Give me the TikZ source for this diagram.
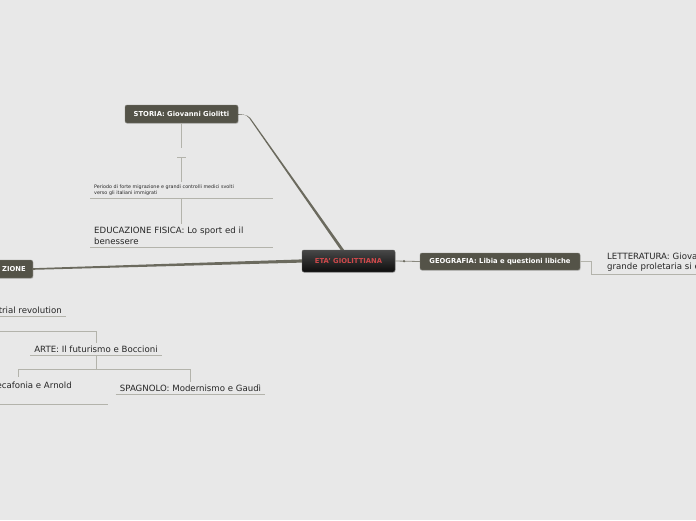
\documentclass[tikz,border=0pt]{standalone}
\usepackage{fontspec}
\setmainfont{DejaVu Sans}
\usetikzlibrary{calc,shadows}
\definecolor{mapBack}{HTML}{E8E8E8}
\definecolor{topicGrey}{HTML}{545348}
\definecolor{centralRed}{HTML}{D0494B}
\definecolor{linkOlive}{HTML}{6B6A5E}
\definecolor{leafLine}{HTML}{B3B3AB}

\begin{document}
\begin{tikzpicture}[x=1pt, y=-1pt,
  topic/.style={fill=topicGrey, draw=topicGrey!75!white, rounded corners=2pt, text=white,
    font=\fontsize{6.8}{8}\selectfont\bfseries, inner xsep=0pt, inner ysep=0pt, minimum height=18pt,
    drop shadow={shadow xshift=0.6pt, shadow yshift=-0.9pt, opacity=0.25}},
  central/.style={topic, top color=black!72, bottom color=black!95, draw=black!60,
    text=centralRed, minimum height=22pt, minimum width=93pt},
  leaf/.style={font=\fontsize{8.6}{10.5}\selectfont, text=black!85, inner xsep=4pt, inner ysep=2.5pt, align=left},
  leaflink/.style={draw=leafLine, line width=0.8pt},
  underline/.style={draw=leafLine, line width=0.8pt}]
  \useasboundingbox (0,0) rectangle (696,520);
  \clip (0,0) rectangle (696,520);
  \fill[mapBack] (0,0) rectangle (696,520);

  % Main topics
  \node[central] (eta) at (348.5,261) {ETA' GIOLITTIANA};
  \node[topic, minimum width=113pt] (storia) at (181.5,114) {STORIA: Giovanni Giolitti};
  \node[topic, minimum width=160pt, minimum height=17pt] (geo) at (500,261.5) {GEOGRAFIA: Libia e questioni libiche};
  \node[topic, anchor=east, text width=58pt, align=right, inner xsep=7pt] (leftTopic) at (33,269) {ZIONE};

  % Leaves
  \node[leaf, font=\fontsize{4.8}{5.8}\selectfont, text width=175pt, anchor=south west]
    (migr) at (90,198) {Periodo di forte migrazione e grandi controlli medici svolti\\verso gli italiani immigrati};
  \node[leaf, text width=175pt, anchor=south west] (edu) at (90,247) {EDUCAZIONE FISICA: Lo sport ed il\\benessere};
  \node[leaf, text width=120pt, anchor=south west] (lett) at (603,274) {LETTERATURA: Giova\\grande proletaria si è};
  \node[leaf, anchor=south east] (rev) at (66,316) {trial revolution};
  \node[leaf, anchor=south] (arte) at (96,355) {ARTE: Il futurismo e Boccioni};
  \node[leaf, anchor=south] (spagnolo) at (190.5,394) {SPAGNOLO: Modernismo e Gaudì};
  \node[leaf, anchor=base east] (musica) at (76,388.5) {ecafonia e Arnold};

  % Underlines
  \foreach \n in {migr,edu,lett,rev,arte,spagnolo}
    \draw[underline] (\n.south west) -- (\n.south east);
  \coordinate (musicaEnd) at (108,404);
  \draw[underline] (musica.west |- musicaEnd) -- (musicaEnd);

  % Main links
  \fill[linkOlive] (storia.east) .. controls +(8,0) and +(-3,-5) .. (251.5,121.5)
    -- ($(eta.north)+(-8,0)$) -- ($(eta.north)+(-4.5,0)$) -- (252.5,121)
    .. controls +(-3,-5) and +(8,-0.8) .. ($(storia.east)+(0,0.8)$) -- cycle;
  \fill[linkOlive] ($(eta.west)+(0,-1.6)$) -- ($(leftTopic.east)+(0,-0.8)$)
    -- ($(leftTopic.east)+(0,0.8)$) -- ($(eta.west)+(0,1.6)$) -- cycle;
  \draw[linkOlive!80, line width=0.8pt] (eta.east) -- (geo.west);
  \fill[linkOlive] ($(eta.east)!0.36!(geo.west)$) circle (1.3pt);

  % Leaf links
  \draw[leaflink] (storia.south) -- ++(0,25);
  \draw[leaflink] ($(storia.south)+(-4.5,34)$) -- ++(9,0);
  \draw[leaflink] ($(storia.south)+(0,34)$) -- (storia.south |- migr.north);
  \draw[leaflink] (storia.south |- migr.south) -- (storia.south |- edu.north);
  \draw[leaflink] (geo.east) -- ++(11,0) |- (lett.south east);
  \coordinate (artRoot) at (-2,331);
  \draw[leaflink] (artRoot) -| (arte.north);
  \coordinate (musicaTop) at (18,377);
  \draw[leaflink] (arte.south) -- ++(0,14) -| (spagnolo.north);
  \draw[leaflink] (arte.south) -- ++(0,14) -| (musicaTop);
\end{tikzpicture}
\end{document}
